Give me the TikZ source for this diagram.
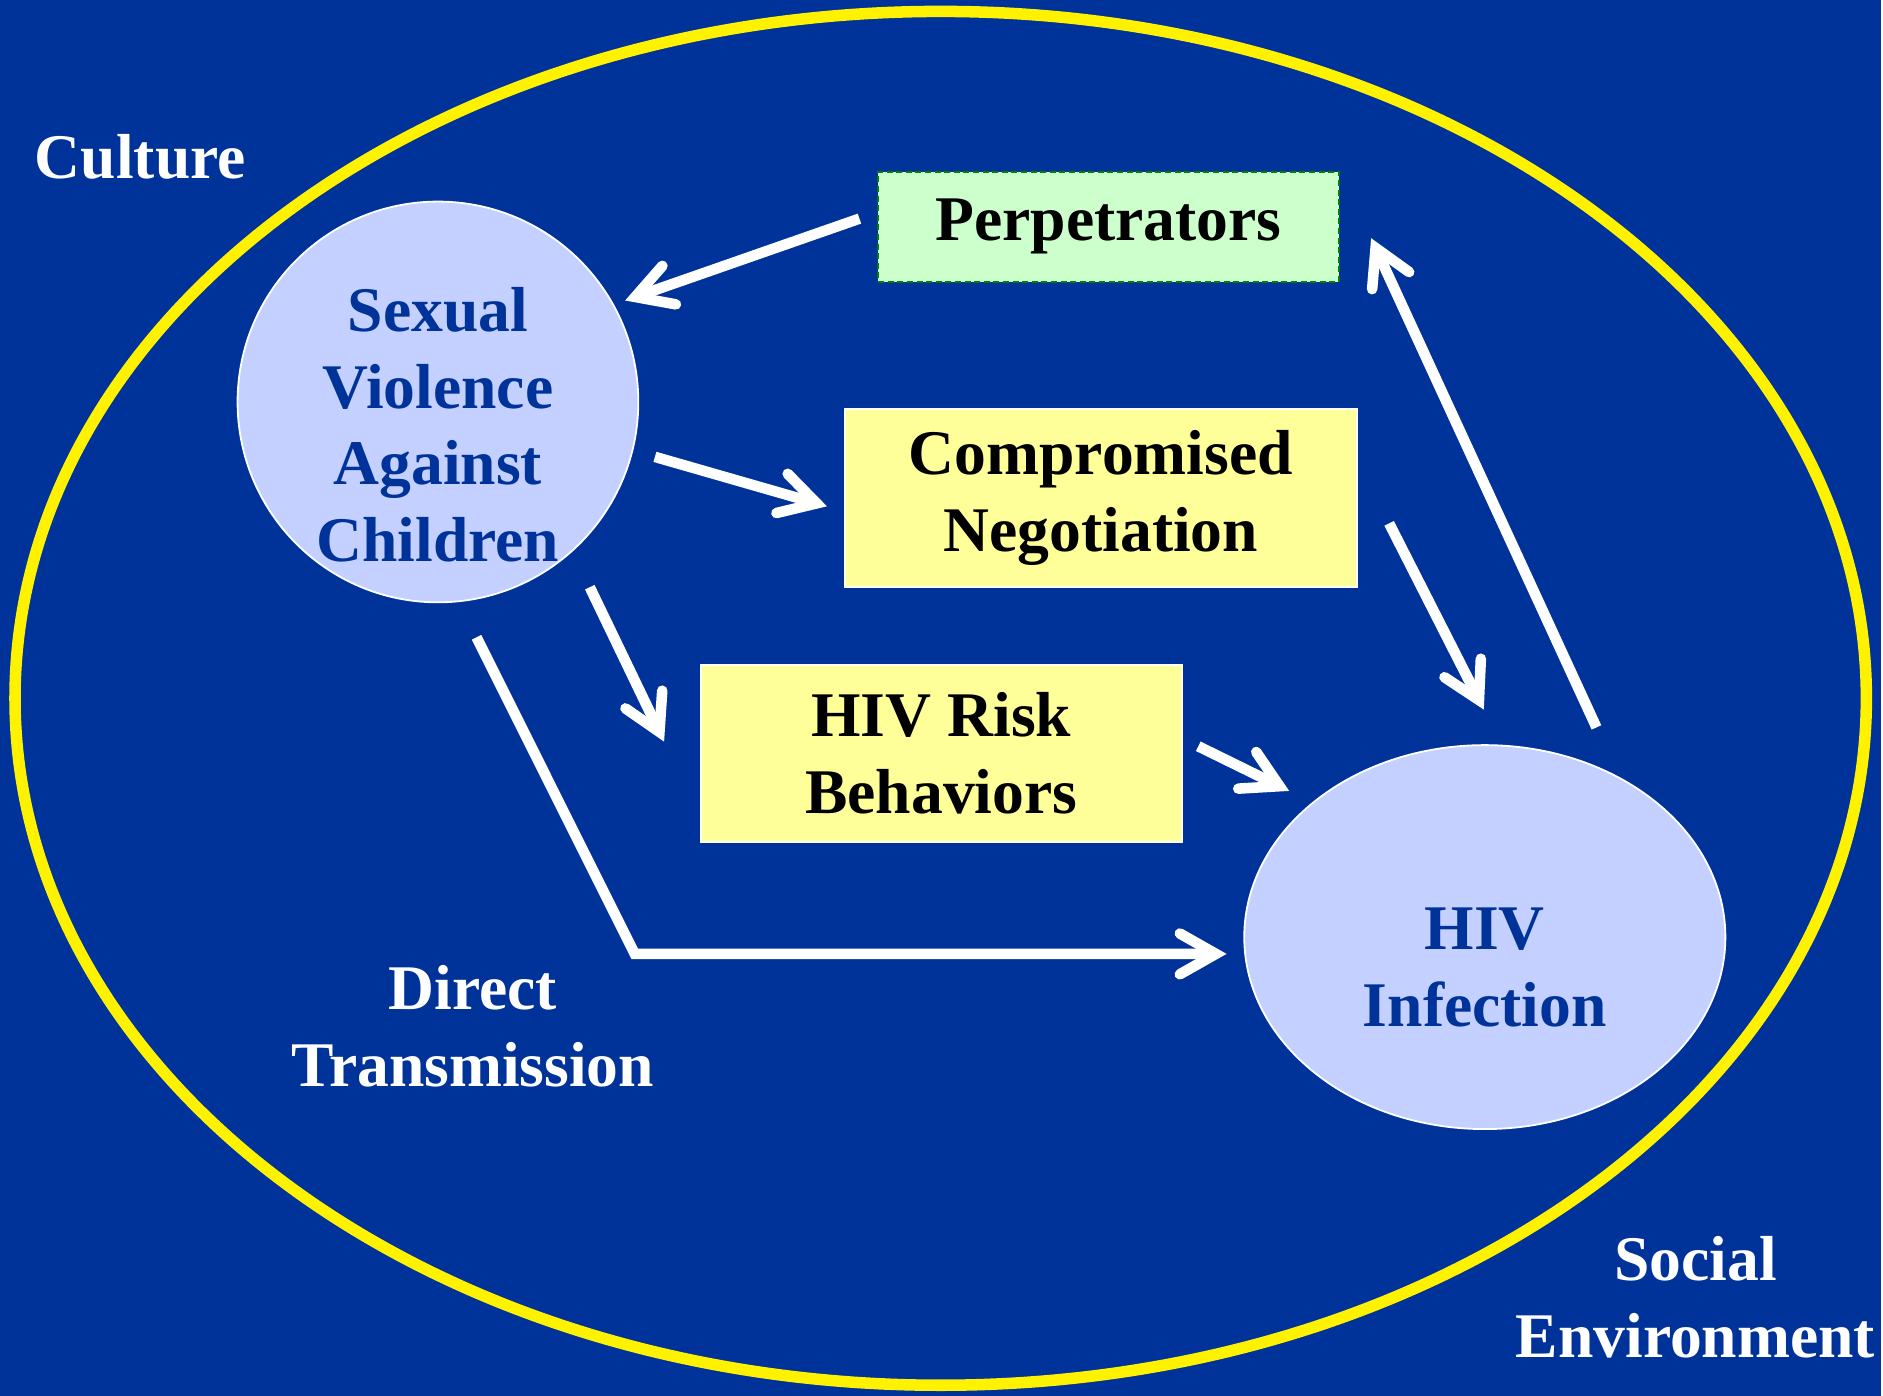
\documentclass[tikz,border=0pt]{standalone}
\usepackage{fontspec}
\setmainfont{Liberation Serif}
\usetikzlibrary{shapes,arrows.meta}

\definecolor{slide}{HTML}{003399}
\definecolor{bubble}{HTML}{C4D0FF}
\definecolor{note}{HTML}{FFFF99}
\definecolor{mint}{HTML}{CCFFCC}
\definecolor{edge}{HTML}{008000}

\begin{document}
\begin{tikzpicture}[x=0.5pt,y=-0.5pt,
  txt/.style={align=center,font=\fontsize{26.5}{32}\selectfont\bfseries},
  blob/.style={draw=white,line width=0.75pt,fill=bubble,inner sep=0pt},
  box/.style={txt,draw=white,line width=0.75pt,fill=note,inner sep=0pt,minimum height=74pt},
  arr/.style={white,line width=4.4pt,-{Straight Barb[length=15pt,width=17pt,line cap=round,line join=miter]}}]
\fill[slide] (0,0) rectangle (1568,1163.3);
\draw[yellow,line width=4.8pt] (784,582) ellipse [x radius=385.75pt,y radius=286.25pt];

\node[txt,white] (cult) at (117,131) {Culture};
\node[blob,circle,minimum size=167pt] (sva) at (365,335) {};
\node[txt,slide] (svat) at (365,354) {Sexual\\Violence\\Against\\Children};
\node[txt,fill=mint,draw=edge,line width=0.8pt,dash pattern=on 2.5pt off 1.5pt,
  inner sep=0pt,minimum width=192pt,minimum height=46pt] (perp) at (924,189) {Perpetrators};
\node[box,minimum width=213.5pt] (comp) at (917.5,415) {Compromised\\Negotiation};
\node[box,minimum width=200.5pt] (risk) at (784.5,628) {HIV Risk\\Behaviors};
\node[blob,ellipse,minimum width=200.5pt,minimum height=160pt] (hiv) at (1237.5,781) {};
\node[txt,slide] (hivt) at (1237.5,806) {HIV\\Infection};
\node[txt,white] (dt) at (394,855) {Direct\\Transmission};
\node[txt,white] (se) at (1413,1081) {Social\\Environment};
\coordinate (bend) at (529,795);

\draw[arr,shorten <=7.9pt,shorten >=4.9pt] ([yshift=6pt]perp.west) -- (sva.29);
\draw[arr,shorten <=9.4pt,shorten >=7.3pt] (sva.-14) -- ([yshift=-5.5pt]comp.west);
\draw[arr,shorten <=16.5pt,shorten >=5.5pt] (sva.-48) -- ([xshift=-12.5pt]risk.west);
\draw[arr,shorten <=16.4pt,shorten >=7pt] (sva.-84) -- (bend) -- (bend -| hiv.west);
\draw[arr,shorten <=7.2pt,shorten >=10.7pt] ([yshift=6.2pt]risk.east) -- (hiv.142);
\draw[arr,shorten <=28.7pt,shorten >=16.4pt] ([yshift=15pt]comp.east) -- (hiv.85);
\draw[arr,shorten <=22.7pt,shorten >=31pt] (hiv.50) -- (perp.north east);
\end{tikzpicture}
\end{document}
